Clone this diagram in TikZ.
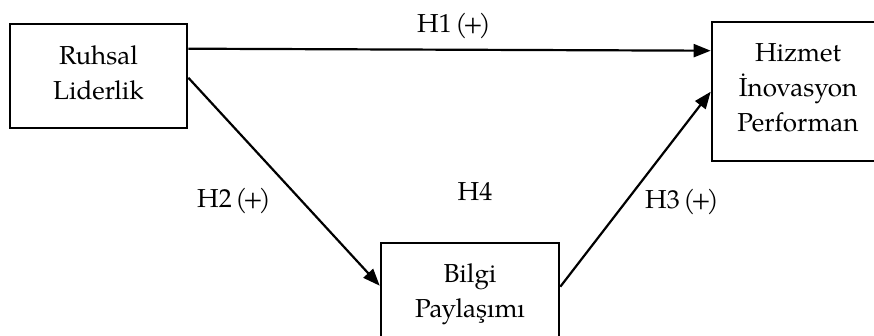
\documentclass[tikz,border=0pt]{standalone}
\usepackage{fontspec}
\setmainfont{TeX Gyre Pagella}
\usetikzlibrary{arrows.meta}
\newcommand{\hyp}[2]{H#1\kern3.5pt(\kern-4pt#2\kern-4pt)}
\tikzset{
  box/.style={draw, line width=2.6pt, rectangle, inner sep=0pt},
  txt/.style={align=center, inner sep=0pt, font=\fontsize{26}{35}\selectfont},
  lbl/.style={inner sep=0pt, anchor=base, font=\fontsize{26}{35}\selectfont},
  link/.style={line width=2.2pt, -{Triangle[length=17pt,width=13pt]}}
}
\begin{document}
\begin{tikzpicture}[x=1pt, y=-1pt]
  \useasboundingbox (0,0) rectangle (874,335);
  \clip (0,0) rectangle (874,335);
  \fill[white] (0,0) rectangle (874,335);

  % boxes
  \node[box, minimum width=177pt, minimum height=104pt] (rl) at (98.5,76) {};
  \node[box, minimum width=172pt, minimum height=139pt] (hp) at (798,91.5) {};
  \node[box, minimum width=178pt, minimum height=102pt] (bp) at (470,294) {};

  % box texts
  \node[txt] (rlt) at (98.5,72.5) {Ruhsal\\Liderlik};
  \node[txt] (hpt) at (798,87.5) {Hizmet\\İnovasyon\\Performan};
  \node[txt] (bpt) at (470,294) {Bilgi\\Paylaşımı};

  % hypothesis paths
  \draw[link] ([yshift=-26pt]rl.north east) -- ([yshift=-30pt]hp.north west);
  \draw[link] ([yshift=-55pt]rl.north east) -- ([yshift=-44pt]bp.north west);
  \draw[link] ([yshift=-45pt]bp.north east) -- ([yshift=-71pt]hp.north west);

  % labels
  \node[lbl] (h1) at (454,32) {\hyp{1}{+}};
  \node[lbl] (h2) at (234,207) {\hyp{2}{+}};
  \node[lbl] (h4) at (475,200) {H4};
  \node[lbl] (h3) at (682,208) {\hyp{3}{+}};
\end{tikzpicture}
\end{document}
